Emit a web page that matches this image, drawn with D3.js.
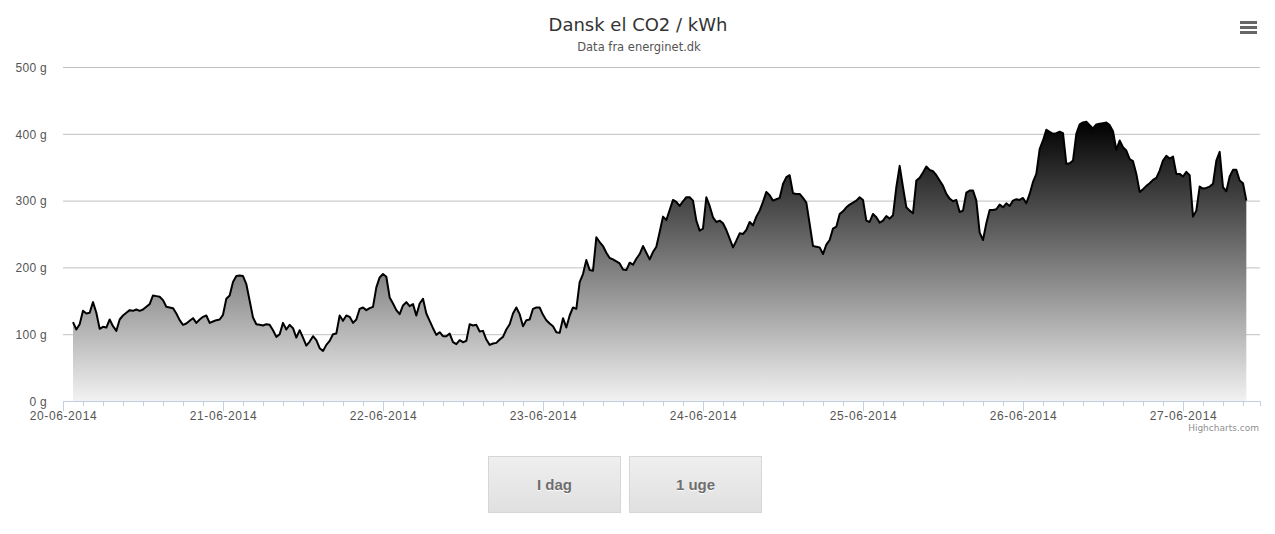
<!DOCTYPE html>
<html>
<head>
<meta charset="utf-8">
<script src="https://cdn.jsdelivr.net/npm/d3@7"></script>
<style>
body { margin: 0; background: #fff; font-family: "DejaVu Sans", Verdana, sans-serif; }
.container { position: relative; width: 1275px; height: 534px; }
.buttons { position: absolute; left: 488px; top: 456px; }
.buttons button {
    float: left; width: 133px; height: 57px; margin-right: 8px; padding: 0;
    border: 1px solid #d6d6d6; background: linear-gradient(#efefef, #e0e0e0);
    font: bold 15px "Liberation Sans", Arial, sans-serif; color: #6e6e6e;
    text-shadow: 0 1px 1px #fff; cursor: pointer;
}
</style>
</head>
<body>
<div class="container"></div>
<script>
// g CO2 per kWh, one value per half hour, first value 20-06-2014 01:30
const day20 = [118, 107, 115, 135, 131, 132, 148, 132, 108, 111, 110, 122, 112, 105, 122, 128, 132, 136, 135, 137,
    135, 137, 141, 145, 158, 157, 156, 151, 141, 140, 139, 131, 121, 114, 116, 120, 124, 117, 122, 126,
    128, 117, 119, 121, 122];
const day21 = [129, 153, 158, 178, 187, 188, 187, 175, 150, 125, 115, 114, 113, 115, 114, 106, 96, 100, 117, 107,
    114, 109, 95, 106, 95, 83, 89, 97, 91, 79, 75, 84, 90, 100, 101, 128, 120, 128, 126, 117,
    122, 138, 140, 136, 139, 141, 170, 185];
const day22 = [190, 186, 155, 146, 136, 130, 143, 148, 142, 145, 128, 146, 153, 131, 120, 109, 99, 103, 97, 97,
    101, 88, 85, 91, 88, 90, 115, 113, 114, 104, 105, 92, 84, 86, 87, 92, 96, 107, 115, 131,
    140, 130, 112, 121, 122, 138, 140, 140];
const day23 = [129, 121, 116, 112, 103, 102, 124, 110, 128, 140, 138, 178, 190, 211, 196, 195, 245, 238, 232, 222,
    214, 212, 209, 206, 197, 196, 207, 204, 213, 220, 232, 222, 212, 223, 231, 253, 276, 271, 286, 301,
    298, 292, 299, 305, 305, 300, 270, 255];
const day24 = [258, 305, 292, 275, 268, 270, 266, 256, 243, 230, 240, 251, 250, 256, 268, 263, 276, 285, 298, 313,
    308, 300, 302, 304, 325, 335, 338, 311, 310, 310, 304, 297, 265, 232, 231, 230, 220, 234, 241, 258,
    261, 280, 284, 290, 294, 297, 300, 305];
const day25 = [301, 270, 268, 280, 275, 267, 270, 277, 273, 278, 320, 352, 320, 290, 285, 281, 330, 334, 342, 351,
    346, 344, 338, 330, 322, 310, 303, 299, 301, 283, 285, 312, 315, 315, 300, 252, 241, 266, 286, 286,
    287, 294, 290, 296, 292, 300, 302, 301];
const day26 = [304, 296, 310, 328, 340, 377, 390, 406, 403, 400, 401, 403, 401, 355, 356, 360, 400, 414, 417, 418,
    413, 408, 414, 415, 416, 417, 413, 404, 376, 390, 380, 375, 362, 359, 340, 313, 317, 322, 326, 331,
    334, 345, 360, 367, 363, 366, 340, 340];
const day27 = [336, 343, 338, 276, 285, 321, 318, 319, 321, 325, 360, 373, 320, 314, 336, 346, 346, 330, 326, 300];

const yTicks = [0, 100, 200, 300, 400, 500];
const buttonLabels = ["I dag", "1 uge"];

const start = Date.UTC(2014, 5, 20, 1, 30);
const values = [].concat(day20, day21, day22, day23, day24, day25, day26, day27);
const data = values.map((v, i) => ({ date: new Date(start + i * 1800e3), value: v }));

width = 1275
height = 534
margin = ({ top: 67, right: 15, bottom: 133, left: 63 })

x = d3.scaleUtc()
    .domain([new Date(Date.UTC(2014, 5, 20)), new Date(Date.UTC(2014, 5, 27, 11, 33))])
    .range([margin.left, width - margin.right])

y = d3.scaleLinear()
    .domain([0, 500])
    .range([height - margin.bottom, margin.top])

const svg = d3.select(".container").append("svg")
    .attr("width", width)
    .attr("height", height)
    .attr("viewBox", [0, 0, width, height])
    .style("font-family", '"DejaVu Sans", Verdana, sans-serif');

const grad = svg.append("defs").append("linearGradient")
    .attr("id", "fill")
    .attr("x1", 0).attr("y1", 0).attr("x2", 0).attr("y2", 1);
grad.append("stop").attr("offset", 0).attr("stop-color", "#000");
grad.append("stop").attr("offset", 1).attr("stop-color", "#f2f2f2");

// grid + y labels
const gy = svg.append("g")
    .attr("transform", `translate(${margin.left},0)`)
    .call(d3.axisLeft(y).tickValues(yTicks).tickFormat(d => d + " g")
        .tickSize(-(width - margin.right - margin.left)).tickPadding(16))
    .call(g => g.select(".domain").remove());
gy.selectAll(".tick line").attr("stroke", "#c0c0c0").filter(d => d === 0).remove();
gy.selectAll(".tick text").attr("dy", "0.36em").attr("fill", "#555")
    .style("font-size", "12px").style("letter-spacing", "0.3px");

// area + line
svg.append("path")
    .datum(data)
    .attr("fill", "url(#fill)")
    .attr("d", d3.area().x(d => x(d.date)).y0(y(0)).y1(d => y(d.value)));

svg.append("path")
    .datum(data)
    .attr("fill", "none")
    .attr("stroke", "#000")
    .attr("stroke-width", 2)
    .attr("stroke-linejoin", "round")
    .attr("d", d3.line().x(d => x(d.date)).y(d => y(d.value)));

// x axis: minor ticks every 3 hours, major per day
const gxMinor = svg.append("g")
    .attr("transform", `translate(0,${y(0)})`)
    .call(d3.axisBottom(x).ticks(d3.utcHour.every(3)).tickSize(5).tickFormat(""));
gxMinor.selectAll("line, path").attr("stroke", "#c0d0e0");

const gx = svg.append("g")
    .attr("transform", `translate(0,${y(0)})`)
    .call(d3.axisBottom(x).ticks(d3.utcDay).tickSize(10).tickPadding(0)
        .tickFormat(d3.utcFormat("%d-%m-%Y")));
gx.select(".domain").remove();
gx.selectAll(".tick line").attr("stroke", "#c0d0e0");
gx.selectAll(".tick text").attr("fill", "#555")
    .style("font-size", "12px").style("letter-spacing", "0.6px");

// titles
svg.append("text")
    .attr("x", 638).attr("y", 31)
    .attr("text-anchor", "middle")
    .attr("fill", "#333")
    .style("font-size", "18px")
    .text("Dansk el CO2 / kWh");

svg.append("text")
    .attr("x", 639).attr("y", 51)
    .attr("text-anchor", "middle")
    .attr("fill", "#555")
    .style("font-size", "11.5px")
    .text("Data fra energinet.dk");

svg.append("text")
    .attr("x", 1259).attr("y", 431)
    .attr("text-anchor", "end")
    .attr("fill", "#909090")
    .style("font-size", "9px")
    .text("Highcharts.com");

// export menu icon
svg.append("g")
    .attr("stroke", "#666")
    .attr("stroke-width", 3)
    .selectAll("line")
    .data([22.5, 27.5, 32.5])
    .join("line")
    .attr("x1", 1240).attr("x2", 1257)
    .attr("y1", d => d).attr("y2", d => d);

d3.select(".container").append("div")
    .attr("class", "buttons")
    .selectAll("button")
    .data(buttonLabels)
    .join("button")
    .text(d => d);
</script>
</body>
</html>
